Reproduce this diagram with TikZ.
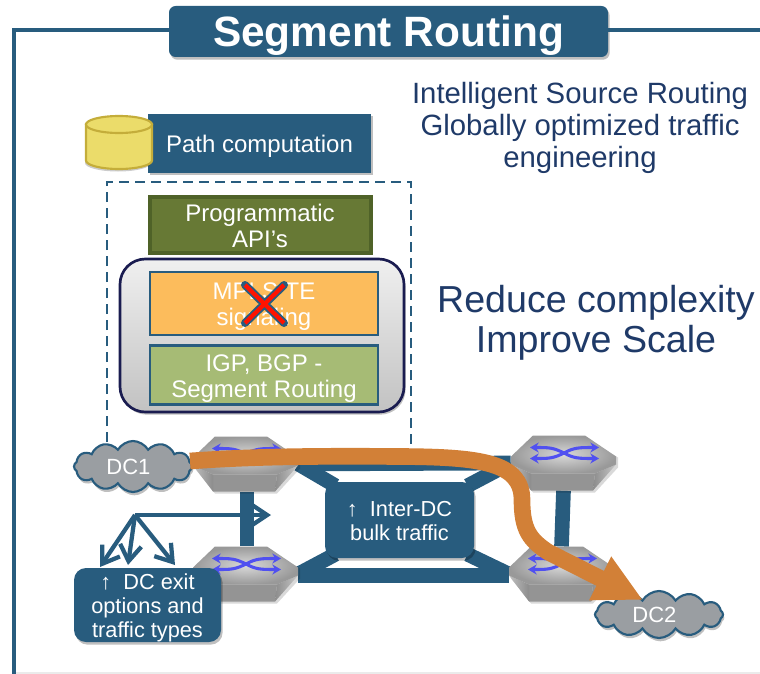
\documentclass[tikz,border=0pt]{standalone}
\usepackage{fontspec}
\setmainfont{Liberation Sans}
\usetikzlibrary{shapes.symbols,shadows,arrows.meta,calc,positioning}
\definecolor{sblue}{HTML}{285C7E}
\definecolor{navy}{HTML}{1F3A68}
\definecolor{stackline}{HTML}{1A1C50}
\definecolor{apigreen}{HTML}{677935}
\definecolor{apiborder}{HTML}{4F6228}
\definecolor{mplsor}{HTML}{FCBC5C}
\definecolor{igpgr}{HTML}{A6BB75}
\definecolor{sorange}{HTML}{D28037}
\definecolor{cloudgr}{HTML}{9A9EA2}
\definecolor{hexblue}{HTML}{5050F0}
\definecolor{cylfill}{HTML}{EBDC6A}
\definecolor{cylline}{HTML}{C4AD3A}
\pgfdeclarelayer{links}
\pgfsetlayers{links,main}
\tikzset{
  softshadow/.style={drop shadow={shadow xshift=1.2pt,shadow yshift=-2pt,opacity=.25,fill=black}},
  box/.style={rectangle,fill=sblue,inner sep=0pt,softshadow},
  roundbox/.style={box,rounded corners=9pt},
  boxtext/.style={text=white,align=center,inner sep=0pt,font=\fontsize{18}{19.5}\selectfont},
  smalltext/.style={text=white,align=center,inner sep=0pt,font=\fontsize{16.3}{18}\selectfont},
  stackbox/.style={rectangle,draw=sblue,line width=2.2pt,inner sep=0pt,minimum width=0.75*228pt},
  link/.style={draw=sblue,line width=11pt},
  hexnode/.style={rectangle,inner sep=0pt,minimum width=78.75pt,minimum height=41pt},
  dccloud/.style={cloud,cloud puffs=12,cloud puff arc=120,aspect=2.4,draw=sblue,line width=1.6pt,fill=cloudgr,
    inner sep=0pt,drop shadow={shadow xshift=1pt,shadow yshift=-2.5pt,opacity=.25,fill=black}},
  fork/.style={draw=sblue,line width=3.2pt,-{Straight Barb[length=12pt,width=16pt,line width=3.2pt]}},
  note/.style={text=navy,align=center,inner sep=0pt},
  hexarrow/.style={draw=hexblue,line width=2.3pt,{Stealth[length=6.5pt,width=7.5pt]}-{Stealth[length=6.5pt,width=7.5pt]}}
}
\newcommand\hexrouter[3]{%
  \node[hexnode] (#1) at (#2,#3) {};
  \begin{scope}[shift={(#2-52.5,#3-27.5)}]
    \fill[black,opacity=.15] (2,22) -- (24,3) -- (76,3) -- (107,22) -- (107,32) -- (84,57) -- (22,57) -- (2,32) -- cycle;
    \fill[black!42] (20,38) -- (84,38) -- (82,55) -- (20,55) -- cycle;
    \shade[left color=black!25,right color=black!45] (0,29) -- (20,38) -- (20,55) -- cycle;
    \shade[left color=black!45,right color=black!22] (84,38) -- (105,29) -- (82,55) -- cycle;
    \shade[inner color=black!15,outer color=black!40] (0,21) -- (22,0) -- (74,0) -- (105,21) -- (105,29) -- (84,38) -- (20,38) -- (0,29) -- cycle;
    \draw[hexarrow] (19,12) .. controls (38,12) and (42,12) .. (53,17.5) .. controls (63,23) and (68,23) .. (88,23);
    \draw[hexarrow] (19,23) .. controls (38,23) and (42,23) .. (53,17.5) .. controls (63,12) and (68,12) .. (88,12);
  \end{scope}%
}
\begin{document}
\begin{tikzpicture}[x=0.75pt,y=-0.75pt]
\useasboundingbox (0,0) rectangle (760,674);
\clip (0,0) rectangle (760,674);

% frame and title
\node[box,rounded corners=5pt,minimum width=0.75*439pt,minimum height=0.75*51pt] (title) at (388.5,31.5) {};
\node[boxtext,font=\fontsize{31.8}{34}\selectfont\bfseries] (titletext) at ([yshift=-3.2pt]title) {Segment Routing};
\coordinate (frameBL) at (14,674);
\coordinate (frameTL) at (14,30);
\coordinate (frameR) at (760,30);
\draw[sblue,line width=3pt] (frameBL) -- (frameTL) -- (title.west |- frameTL);
\draw[sblue,line width=3pt] (title.east |- frameR) -- (frameR);
\draw[black!8,line width=.8pt] (16,673) -- (760,673);

% notes
\node[note,font=\fontsize{22}{24}\selectfont] (goal) at (580,128)
  {Intelligent Source Routing\\Globally optimized traffic\\engineering};
\node[note,font=\fontsize{28.2}{30}\selectfont] (reduce) at (596,323)
  {Reduce complexity\\Improve Scale};

% path computation
\node[box,minimum width=0.75*223pt,minimum height=0.75*59pt] (path) at (259.5,143) {};
\node[boxtext] (pathtext) at ([yshift=-2.2pt]path) {Path computation};
\fill[black,opacity=.2] (85,127) -- (85,163) arc[x radius=33,y radius=8.5,start angle=180,end angle=0] -- (151,127) -- cycle;
\filldraw[fill=cylfill,draw=cylline,line width=1.6pt] (86,124.5) -- (86,160.5) arc[x radius=33,y radius=8.5,start angle=180,end angle=0] -- (152,124.5) -- cycle;
\filldraw[fill=cylfill,draw=cylline,line width=1.6pt] (119,124.5) ellipse[x radius=33,y radius=8.5];

% control stack
\node[rectangle,draw=apiborder,fill=apigreen,line width=3pt,inner sep=0pt,
  minimum width=0.75*221pt,minimum height=0.75*56pt] (api) at (260,224.5) {};
\node[boxtext] (apitext) at ([yshift=-1pt]api) {Programmatic\\API’s};
\node[rectangle,rounded corners=19pt,draw=stackline,line width=2pt,top color=black!6,bottom color=black!24,
  minimum width=0.75*284pt,minimum height=0.75*153pt,softshadow] (stack) at (262,335.5) {};
\node[stackbox,fill=mplsor,minimum height=0.75*63pt] (mpls) at (264,303.5) {};
\node[boxtext] (mplstext) at ([yshift=-2.2pt]mpls) {MPLS TE\\signaling};
\node[stackbox,fill=igpgr,minimum height=0.75*59pt] (igp) at (264,375) {};
\node[boxtext] (igptext) at ([yshift=-3pt]igp) {IGP, BGP -\\Segment Routing};
\coordinate (xa) at (245,285);
\coordinate (xb) at (284,323);
\coordinate (xc) at (284,285);
\coordinate (xd) at (245,323);
\draw[sblue,line width=6pt,line cap=round] (xa) -- (xb) (xc) -- (xd);
\draw[red!85!orange,line width=3.2pt] (xa) -- (xb) (xc) -- (xd);

% routers
\hexrouter{hexTL}{245.5}{464}
\hexrouter{hexTR}{563.5}{463}
\hexrouter{hexBL}{245.5}{574}
\hexrouter{hexBR}{561.5}{574}

\node[roundbox,minimum width=0.75*149pt,minimum height=0.75*76pt] (bulk) at (399.5,520) {};
\node[smalltext] (bulktext) at ([yshift=-.5pt]bulk) {↑\ \ Inter-DC\\bulk traffic};

% clouds
\node[dccloud,minimum width=0.75*118pt,minimum height=0.75*51pt] (dc1) at (133,466.5) {};
\node[smalltext,font=\fontsize{16.5}{18}\selectfont] (dc1text) at ([xshift=-3.4pt]dc1) {DC1};
\node[dccloud,minimum width=0.75*128pt,minimum height=0.75*47pt] (dc2) at (659,614.5) {};
\node[smalltext,font=\fontsize{16.5}{18}\selectfont] (dc2text) at ([xshift=-3.4pt]dc2) {DC2};

% traffic arrow
\coordinate (dc2in) at (643,600);
\draw[sorange,line width=12.5pt,-{Triangle[length=36pt,width=34pt]}]
  (190,461) .. controls (260,456) and (330,456) .. (400,456.5)
  .. controls (480,457) and (522,462) .. (522,500)
  .. controls (522,530) and (530,540) .. (548,552) -- (dc2in);

% exit options
\node[roundbox,minimum width=0.75*147pt,minimum height=0.75*74pt] (exit) at (147.5,605) {};
\node[smalltext] (exittext) at ([yshift=-2.2pt]exit) {↑\ \ DC exit\\options and\\traffic types};
\coordinate (forkorg) at (135,515);
\coordinate (forkright) at (271,515);
\coordinate (forka) at (100,567);
\coordinate (forkb) at (128,565);
\coordinate (forkc) at (175,565);
\draw[fork] (forkorg) -- (forkright);
\draw[fork] (forkorg) -- (forka);
\draw[fork] (forkorg) -- (forkb);
\draw[fork] (forkorg) -- (forkc);

% network links and dashed region, behind everything
\begin{pgfonlayer}{links}
\draw[sblue,line width=2pt,dash pattern=on 7.5pt off 4.5pt] (107,458) -- (107,182) -- (411,182) -- (411,458);
\draw[link] ([xshift=1pt]hexTL.south) -- ([xshift=1pt]hexBL.north);
\draw[link] (hexTR.south) -- (hexBR.north);
\draw[link] (hexTL.east) -- (hexTR.west);
\draw[link] ([yshift=-1pt]hexBL.east) -- ([yshift=-1pt]hexBR.west);
\draw[link] (hexTL.east) -- ([shift={(8pt,-3pt)}]bulk.north west);
\draw[link] (hexTR.west) -- ([shift={(-5pt,-3pt)}]bulk.north east);
\draw[link] (hexBL.east) -- ([shift={(8pt,3pt)}]bulk.south west);
\draw[link] (hexBR.west) -- ([shift={(-5pt,3pt)}]bulk.south east);
\end{pgfonlayer}
\end{tikzpicture}
\end{document}
